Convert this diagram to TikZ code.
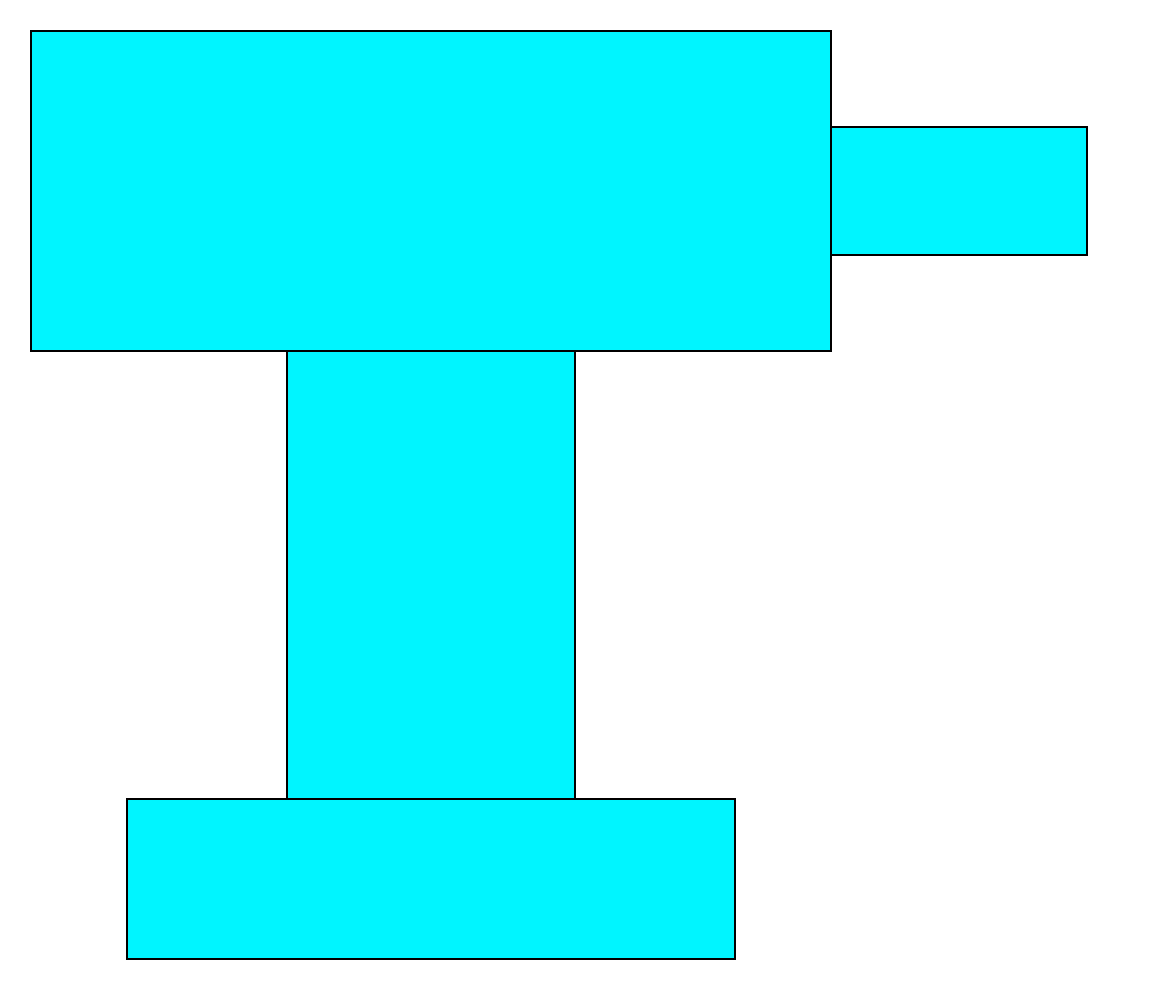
\documentclass[tikz,border=0pt]{standalone}
\definecolor{drillcyan}{RGB}{0,245,255}
\begin{document}
\begin{tikzpicture}[x=1pt,y=-1pt,
  part/.style={draw=black,fill=drillcyan,line width=2pt}]
\useasboundingbox (0,0) rectangle (1160,992);
\fill[white] (0,0) rectangle (1160,992);
\draw[part] (31,31) rectangle (831,351);
\draw[part] (831,127) rectangle (1087,255);
\draw[part] (287,351) rectangle (575,799);
\draw[part] (127,799) rectangle (735,959);
\end{tikzpicture}
\end{document}
